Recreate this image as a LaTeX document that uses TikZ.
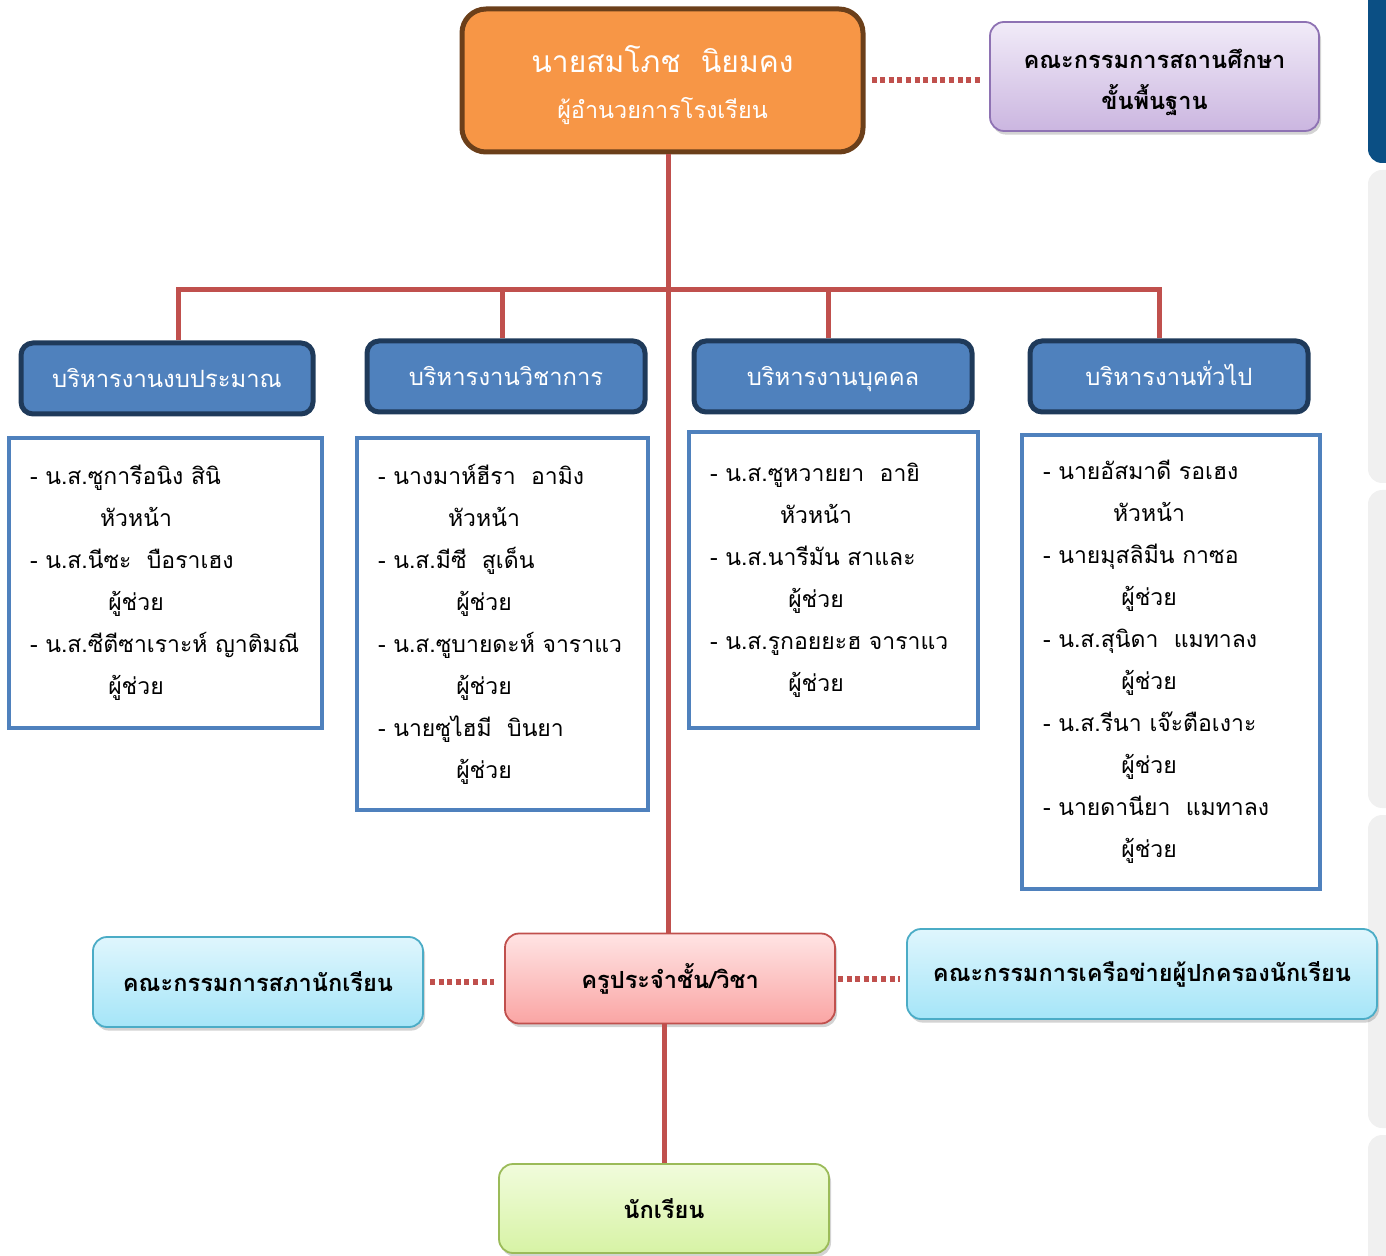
\documentclass[tikz,border=0pt]{standalone}
\usepackage{fontspec}
\setmainfont[Script=Thai]{Loma}
\usepackage{xcolor}
\usepackage{tikz}
\usetikzlibrary{shapes,shadows}
\definecolor{linered}{HTML}{C0504D}
\definecolor{dirfill}{HTML}{F79646}
\definecolor{dirline}{HTML}{6B3F1A}
\definecolor{deptfill}{HTML}{4F81BD}
\definecolor{deptline}{HTML}{1F3A5A}
\definecolor{tabblue}{HTML}{0B4F84}
\definecolor{boardtop}{HTML}{F1EBF8}
\definecolor{boardbot}{HTML}{CBB6E0}
\definecolor{boardline}{HTML}{8E72B3}
\definecolor{cyantop}{HTML}{DFF6FD}
\definecolor{cyanbot}{HTML}{A5E5F8}
\definecolor{cyanline}{HTML}{4BACC6}
\definecolor{pinktop}{HTML}{FFE4E4}
\definecolor{pinkbot}{HTML}{FAA5A4}
\definecolor{greentop}{HTML}{F1FCDC}
\definecolor{greenbot}{HTML}{D7F3A5}
\definecolor{greenline}{HTML}{9BBB59}
\tikzset{dirbox/.style={rectangle,rounded corners=12pt,fill=dirfill,draw=dirline,line width=2.5pt,text=white,align=center,minimum width=200.5pt,minimum height=71.5pt,font=\fontsize{11.7}{23}\selectfont},
  softbox/.style={rectangle,rounded corners=7pt,line width=0.9pt,align=center,minimum width=165pt,minimum height=45pt,font=\fontsize{11.8}{20.5}\selectfont\bfseries,drop shadow={opacity=0.35,shadow xshift=1pt,shadow yshift=-1.8pt}},
  boardbox/.style={softbox,top color=boardtop,bottom color=boardbot,draw=boardline,minimum width=164.5pt,minimum height=54.5pt},
  cyanbox/.style={softbox,top color=cyantop,bottom color=cyanbot,draw=cyanline},
  pinkbox/.style={softbox,top color=pinktop,bottom color=pinkbot,draw=linered},
  greenbox/.style={softbox,top color=greentop,bottom color=greenbot,draw=greenline},
  deptbox/.style={rectangle,rounded corners=6pt,fill=deptfill,draw=deptline,line width=2.5pt,text=white,minimum width=139pt,minimum height=35.5pt,text height=11pt,text depth=2pt,font=\fontsize{11.9}{16}\selectfont},
  listbox/.style={rectangle,draw=deptfill,line width=2pt,fill=white,align=left,inner xsep=10.5pt,font=\fontsize{11.5}{21}\selectfont},
  redline/.style={linered,line width=2.5pt},
  dotline/.style={linered,line width=3pt,dash pattern=on 2.5pt off 1.8pt}}
\newcommand{\duty}[1]{\hspace*{53pt}\makebox[0pt]{#1}}

\begin{document}
\begin{tikzpicture}[x=0.5pt,y=-0.5pt]
    \useasboundingbox (0,0) rectangle (1386,1256);
    \clip (0,0) rectangle (1386,1256);
    % side tabs
    \fill[tabblue,rounded corners=7pt] (1368,-20) rectangle (1400,163);
    \foreach \ya/\yb in {170/483,490/808,815/1128,1135/1290}
        \fill[black!6,rounded corners=7pt] (1368,\ya) rectangle (1400,\yb);

    \node[dirbox] (dir) at (662.5,80.5) {{\fontsize{15}{23}\selectfont\rule{0pt}{18pt}นายสมโภช\ \ นิยมคง}\\ ผู้อำนวยการโรงเรียน};
    \node[boardbox] (board) at (1154.5,76.5) {\rule{0pt}{16pt}คณะกรรมการสถานศึกษา\\ ขั้นพื้นฐาน};
    \coordinate (hub) at (668,290);

    \node[deptbox,minimum width=146pt] (d1) at (167,378.5) {บริหารงานงบประมาณ};
    \node[deptbox] (d2) at (506,376.5) {บริหารงานวิชาการ};
    \node[deptbox] (d3) at (833,376.5) {บริหารงานบุคคล};
    \node[deptbox] (d4) at (1169,376.5) {บริหารงานทั่วไป};

    \node[listbox,minimum width=156.5pt,minimum height=145pt,text width=135.5pt] (l1) at (165.5,583)
        {- น.ส.ซูการีอนิง สินิ\\ \duty{หัวหน้า}\\ - น.ส.นีซะ\ \ บือราเฮง\\ \duty{ผู้ช่วย}\\ - น.ส.ซีตีซาเราะห์ ญาติมณี\\ \duty{ผู้ช่วย}};
    \node[listbox,minimum width=145.5pt,minimum height=186pt,text width=124.5pt] (l2) at (502.5,624)
        {- นางมาห์ฮีรา\ \ อามิง\\ \duty{หัวหน้า}\\ - น.ส.มีซี\ \ สูเด็น\\ \duty{ผู้ช่วย}\\ - น.ส.ซูบายดะห์ จาราแว\\ \duty{ผู้ช่วย}\\ - นายซูไฮมี\ \ บินยา\\ \duty{ผู้ช่วย}};
    \node[listbox,minimum width=144.5pt,minimum height=148pt,text width=123.5pt] (l3) at (833.5,580)
        {- น.ส.ซูหวายยา\ \ อายิ\\ \duty{หัวหน้า}\\ - น.ส.นารีมัน สาและ\\ \duty{ผู้ช่วย}\\ - น.ส.รูกอยยะฮ จาราแว\\ \duty{ผู้ช่วย}};
    \node[listbox,minimum width=149pt,minimum height=227pt,text width=128pt] (l4) at (1171,662)
        {- นายอัสมาดี รอเฮง\\ \duty{หัวหน้า}\\ - นายมุสลิมีน กาซอ\\ \duty{ผู้ช่วย}\\ - น.ส.สุนิดา\ \ แมทาลง\\ \duty{ผู้ช่วย}\\ - น.ส.รีนา เจ๊ะตือเงาะ\\ \duty{ผู้ช่วย}\\ - นายดานียา\ \ แมทาลง\\ \duty{ผู้ช่วย}};

    \node[cyanbox] (council) at (258,982) {คณะกรรมการสภานักเรียน};
    \node[pinkbox] (teach) at (670,978.5) {ครูประจำชั้น/วิชา};
    \node[cyanbox,minimum width=235pt] (parent) at (1142,974) {คณะกรรมการเครือข่ายผู้ปกครองนักเรียน};
    \node[greenbox,minimum height=44.5pt] (pupil) at (664,1208.5) {นักเรียน};

    \draw [redline] (dir.south -| hub) -- (teach.north -| hub);
    \draw [redline] ([xshift=5.5pt]d1.north) |- (hub) -| ([xshift=-5pt]d4.north);
    \draw [redline] ([xshift=-2pt]d2.north) -- ([xshift=-2pt]d2.north |- hub);
    \draw [redline] ([xshift=-2.5pt]d3.north) -- ([xshift=-2.5pt]d3.north |- hub);
    \draw [redline] (pupil.north |- teach.south) -- (pupil.north);
    \draw [dotline,shorten <=3pt,shorten >=3pt] (dir.east) -- (dir.east -| board.west);
    \draw [dotline,shorten <=3pt,shorten >=5pt] (council.east) -- (council.east -| teach.west);
    \draw [dotline,shorten <=1pt,shorten >=3pt] (teach.east) -- (teach.east -| parent.west);
\end{tikzpicture}
\end{document}
